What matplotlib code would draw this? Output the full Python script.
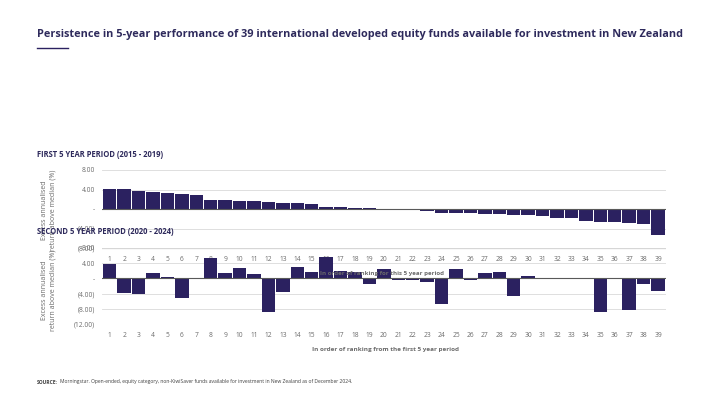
'''
Persistence of fund performance across two 5 year periods
'''

import matplotlib as mpl
import matplotlib.pyplot as plt
import numpy as np
from matplotlib.ticker import FuncFormatter

mpl.rcParams['font.family'] = ['Open Sans', 'DejaVu Sans']

# data
ranks = np.arange(1, 40)
first_period = [4.07, 4.07, 3.73, 3.53, 3.32, 3.12, 2.92, 1.90, 1.90, 1.70,
                1.70, 1.49, 1.29, 1.29, 1.08, 0.47, 0.47, 0.27, 0.27, 0.05,
                -0.27, -0.27, -0.47, -0.88, -0.88, -0.88, -1.08, -1.08, -1.29, -1.29,
                -1.49, -1.90, -1.90, -2.50, -2.70, -2.70, -2.90, -3.10, -5.30]
second_period = [3.82, -3.73, -4.00, 1.42, 0.36, -5.07, 0.00, 5.33, 1.42, 2.67,
                 1.16, -8.80, -3.47, 2.93, 1.69, 5.60, 1.87, 1.80, -1.42, 2.58,
                 -0.36, -0.36, -0.89, -6.84, 2.49, -0.36, 1.42, 1.69, -4.71, 0.62,
                 0.00, 0.00, 0.00, -0.10, -8.90, 0.00, -8.36, -1.42, -3.38]
top_ticks = [8, 4, 0, -4, -8]
bottom_ticks = [8, 4, 0, -4, -8, -12]

navy = '#2b2160'
title_col = '#2e2a5c'
grey = '#6b6b6b'

W, H = 720, 405


def pix_axes(fig, x0, y0, x1, y1):
    # axes from pixel box (top-left origin)
    return fig.add_axes([x0 / W, (H - y1) / H, (x1 - x0) / W, (y1 - y0) / H])


def fmt(v, pos):
    if abs(v) < 1e-9:
        return '-'
    if v < 0:
        return '(%.2f)' % abs(v)
    return '%.2f' % v


def style(ax, vals, ylim, yticks):
    ax.bar(ranks, vals, width=0.93, color=navy, zorder=3)
    ax.set_xlim(0.47, 39.55)
    ax.set_ylim(ylim)
    ax.set_yticks(yticks)
    ax.yaxis.set_major_formatter(FuncFormatter(fmt))
    ax.set_xticks(ranks)
    ax.set_xticklabels([str(r) for r in ranks])
    ax.tick_params(axis='both', length=0, labelsize=4.8, colors=grey, pad=5)
    ax.tick_params(axis='x', pad=6)
    ax.grid(axis='y', color='#d9d9d9', linewidth=0.6, zorder=0)
    for s in ax.spines.values():
        s.set_visible(False)
    ax.axhline(0, color='#595959', linewidth=0.8, zorder=4)
    ax.set_facecolor('none')


fig = plt.figure(figsize=(7.2, 4.05), dpi=100)

ax1 = pix_axes(fig, 102, 170, 666, 248)
style(ax1, first_period, (-8, 8), top_ticks)

ax2 = pix_axes(fig, 102, 248, 666, 324)
style(ax2, second_period, (-12, 8), bottom_ticks)
ax2.axhline(8, color='#c8c8c8', linewidth=1.6, zorder=1)

# title and underline
fig.text(37 / W, 1 - 35 / H, 'Persistence in 5-year performance of 39 international developed equity funds available for investment in New Zealand',
         fontsize=7.8, fontweight='bold', color=title_col, va='center', ha='left')
fig.add_artist(plt.Line2D([37 / W, 68 / W], [1 - 48 / H, 1 - 48 / H], color=navy, linewidth=1))

# section headers
fig.text(37 / W, 1 - 155 / H, 'FIRST 5 YEAR PERIOD (2015 - 2019)',
         fontsize=5.5, fontweight='bold', color=title_col, va='center')
fig.text(37 / W, 1 - 232 / H, 'SECOND 5 YEAR PERIOD (2020 - 2024)',
         fontsize=5.5, fontweight='bold', color=title_col, va='center', zorder=10)

# y labels
ylab = 'Excess annualised\nreturn above median (%)'
fig.text(49 / W, 1 - 210 / H, ylab, rotation=90, fontsize=5, color=grey,
         ha='center', va='center', linespacing=1.3)
fig.text(49 / W, 1 - 290 / H, ylab, rotation=90, fontsize=5, color=grey,
         ha='center', va='center', linespacing=1.3)

# axis titles
fig.text(382 / W, 1 - 273 / H, 'In order of ranking for this 5 year period',
         fontsize=4.4, fontweight='bold', color=grey, ha='center', va='center', zorder=10)
fig.text(386 / W, 1 - 350 / H, 'In order of ranking from the first 5 year period',
         fontsize=4.6, fontweight='bold', color=grey, ha='center', va='center')

# source
fig.text(37 / W, 1 - 382 / H, 'SOURCE:', fontsize=3.6, fontweight='bold',
         color='#404040', va='center')
fig.text(59.5 / W, 1 - 382 / H,
         'Morningstar. Open-ended, equity category, non-KiwiSaver funds available for investment in New Zealand as of December 2024.',
         fontsize=3.6, color='#404040', va='center')

fig.savefig('out.png', dpi=100, facecolor='white')
